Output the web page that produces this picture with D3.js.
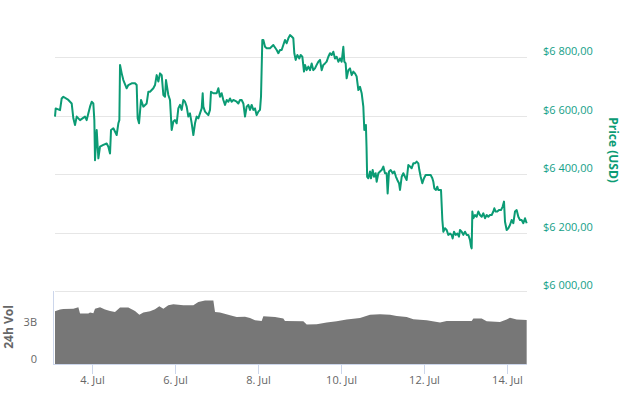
<!DOCTYPE html>
<html>
<head>
<meta charset="utf-8">
<script src="https://cdn.jsdelivr.net/npm/d3@7.9.0/dist/d3.min.js"></script>
<style>
  body { margin: 0; background: #fff; }
  svg { display: block; font-family: "Open Sans", sans-serif; }
</style>
</head>
<body>
<svg id="chart" width="621" height="393"></svg>
<script>
// day of July (fractional), price in USD
const priceData = [
  [3.108,6597],[3.125,6625],[3.229,6619],[3.269,6659],[3.309,6665],[3.430,6654],[3.510,6642],[3.550,6591],
  [3.590,6568],[3.631,6597],[3.711,6585],[3.831,6597],[3.871,6585],[3.952,6631],[3.992,6648],[4.032,6642],
  [4.056,6585],[4.072,6448],[4.113,6551],[4.153,6454],[4.193,6494],[4.273,6500],[4.353,6505],[4.394,6494],
  [4.434,6471],[4.458,6551],[4.514,6557],[4.594,6534],[4.635,6574],[4.659,6585],[4.675,6774],[4.715,6745],
  [4.755,6722],[4.835,6694],[4.875,6705],[4.956,6711],[5.036,6711],[5.076,6705],[5.100,6591],[5.133,6574],
  [5.181,6654],[5.237,6631],[5.317,6642],[5.357,6682],[5.398,6682],[5.478,6694],[5.518,6705],[5.558,6739],
  [5.598,6717],[5.639,6745],[5.679,6739],[5.719,6671],[5.759,6665],[5.783,6722],[5.839,6671],[5.879,6654],
  [5.920,6551],[5.960,6580],[6.000,6585],[6.040,6574],[6.080,6625],[6.120,6637],[6.161,6620],[6.201,6654],
  [6.241,6648],[6.281,6631],[6.321,6597],[6.361,6608],[6.402,6574],[6.442,6534],[6.482,6574],[6.522,6597],
  [6.562,6591],[6.602,6608],[6.643,6625],[6.667,6677],[6.683,6631],[6.723,6614],[6.763,6608],[6.803,6602],
  [6.843,6620],[6.867,6682],[6.924,6677],[7.004,6677],[7.044,6694],[7.084,6665],[7.124,6677],[7.165,6654],
  [7.205,6637],[7.245,6654],[7.285,6648],[7.325,6659],[7.365,6648],[7.406,6654],[7.486,6648],[7.526,6642],
  [7.566,6654],[7.606,6654],[7.647,6642],[7.687,6597],[7.727,6631],[7.767,6637],[7.807,6620],[7.847,6637],
  [7.888,6620],[7.928,6625],[7.968,6602],[8.008,6614],[8.048,6620],[8.072,6665],[8.104,6859],[8.129,6859],
  [8.169,6836],[8.209,6831],[8.289,6831],[8.369,6842],[8.450,6825],[8.490,6814],[8.530,6825],[8.570,6825],
  [8.610,6842],[8.650,6859],[8.691,6848],[8.731,6865],[8.771,6876],[8.811,6871],[8.851,6865],[8.875,6814],
  [8.907,6791],[8.948,6808],[8.996,6796],[9.028,6808],[9.068,6802],[9.108,6751],[9.132,6774],[9.172,6756],
  [9.213,6768],[9.253,6756],[9.293,6779],[9.333,6756],[9.373,6762],[9.413,6774],[9.454,6785],[9.494,6791],
  [9.534,6756],[9.574,6774],[9.614,6779],[9.654,6785],[9.695,6802],[9.735,6814],[9.775,6808],[9.815,6819],
  [9.855,6796],[9.895,6802],[9.936,6785],[9.976,6796],[10.016,6785],[10.056,6836],[10.080,6785],[10.112,6779],
  [10.136,6728],[10.177,6756],[10.217,6762],[10.257,6739],[10.297,6751],[10.337,6745],[10.377,6734],[10.418,6688],
  [10.458,6699],[10.498,6677],[10.538,6631],[10.562,6551],[10.600,6568],[10.615,6494],[10.630,6391],[10.659,6386],
  [10.699,6409],[10.723,6386],[10.763,6414],[10.795,6391],[10.835,6403],[10.859,6374],[10.900,6403],[10.940,6409],
  [10.980,6414],[11.020,6426],[11.060,6403],[11.100,6403],[11.124,6334],[11.157,6409],[11.197,6414],[11.245,6403],
  [11.285,6409],[11.325,6391],[11.357,6380],[11.398,6369],[11.422,6346],[11.462,6391],[11.502,6403],[11.542,6391],
  [11.582,6380],[11.622,6431],[11.663,6426],[11.703,6420],[11.743,6437],[11.783,6437],[11.823,6443],[11.863,6437],
  [11.888,6414],[11.920,6391],[11.960,6369],[12.000,6386],[12.040,6397],[12.104,6397],[12.161,6397],[12.201,6386],
  [12.225,6374],[12.249,6351],[12.289,6346],[12.321,6357],[12.345,6346],[12.386,6346],[12.410,6346],[12.442,6243],
  [12.466,6203],[12.506,6215],[12.546,6209],[12.586,6192],[12.627,6197],[12.667,6192],[12.691,6180],[12.723,6203],
  [12.763,6192],[12.803,6197],[12.843,6186],[12.867,6209],[12.908,6203],[12.948,6192],[12.988,6203],[13.028,6192],
  [13.068,6192],[13.108,6175],[13.133,6152],[13.149,6146],[13.165,6272],[13.189,6249],[13.229,6260],[13.269,6254],
  [13.309,6272],[13.349,6260],[13.390,6254],[13.430,6266],[13.470,6249],[13.510,6260],[13.550,6254],[13.590,6260],
  [13.631,6260],[13.671,6272],[13.695,6283],[13.727,6272],[13.767,6272],[13.807,6277],[13.855,6277],[13.896,6289],
  [13.928,6306],[13.952,6237],[13.992,6209],[14.032,6215],[14.072,6226],[14.112,6243],[14.153,6232],[14.193,6272],
  [14.233,6277],[14.273,6254],[14.313,6243],[14.353,6243],[14.394,6232],[14.434,6249],[14.474,6232]
];

// day of July, 24h volume in billions USD
const volumeData = [
  [3.108,4.27],[3.229,4.41],[3.309,4.46],[3.550,4.49],[3.671,4.60],[3.711,4.09],[3.912,4.09],[3.952,4.17],
  [4.032,4.11],[4.072,4.49],[4.193,4.60],[4.313,4.41],[4.434,4.30],[4.554,4.22],[4.675,4.58],[4.875,4.58],
  [5.036,4.30],[5.141,4.00],[5.237,4.17],[5.398,4.27],[5.518,4.44],[5.622,4.68],[5.719,4.49],[5.839,4.76],
  [5.960,4.84],[6.201,4.76],[6.442,4.76],[6.562,5.03],[6.723,5.14],[6.924,5.14],[6.964,4.22],[7.084,4.17],
  [7.325,3.95],[7.486,3.81],[7.687,3.84],[7.807,3.73],[7.928,3.54],[8.088,3.49],[8.129,3.87],[8.410,3.81],
  [8.610,3.68],[8.650,3.49],[9.092,3.46],[9.173,3.20],[9.414,3.22],[9.655,3.36],[9.896,3.46],[10.136,3.60],
  [10.458,3.73],[10.699,4.00],[10.940,4.03],[11.181,4.00],[11.341,3.89],[11.582,3.81],[11.743,3.62],[12.064,3.54],
  [12.386,3.36],[12.546,3.49],[12.867,3.49],[13.149,3.49],[13.189,3.68],[13.390,3.68],[13.510,3.46],[13.831,3.41],
  [13.992,3.60],[14.072,3.76],[14.233,3.60],[14.474,3.57]
];

const priceTicks = [6000, 6200, 6400, 6600, 6800];
const volumeTicks = [0, 3];
const dayTicks = [4, 6, 8, 10, 12, 14];
const dayStart = 3.108;
const dayEnd = 14.482;

const toDate = d => new Date(Date.UTC(2018, 6, 1) + (d - 1) * 86400000);

const svg = d3.select("#chart");

const x = d3.scaleUtc()
  .domain([toDate(dayStart), toDate(dayEnd)])
  .range([55, 527]);

const yPrice = d3.scaleLinear()
  .domain([6000, 6800])
  .range([291, 57.3]);

const yVol = d3.scaleLinear()
  .domain([0, 5.92])
  .range([364, 291]);

const locale = d3.formatLocale({ decimal: ",", thousands: " ", grouping: [3], currency: ["$", ""] });
const fmtPrice = locale.format("$,.2f");

// price grid
svg.append("g")
  .selectAll("line")
  .data(priceTicks)
  .join("line")
  .attr("x1", 55)
  .attr("x2", 527)
  .attr("y1", d => Math.round(yPrice(d)) + 0.5)
  .attr("y2", d => Math.round(yPrice(d)) + 0.5)
  .attr("stroke", "#e6e6e6");

svg.append("g")
  .selectAll("text")
  .data(priceTicks)
  .join("text")
  .attr("x", 543)
  .attr("y", d => yPrice(d) - 2)
  .attr("fill", "#14a088")
  .attr("font-size", 11)
  .text(d => fmtPrice(d));

svg.append("text")
  .attr("transform", "translate(613,150) rotate(90)")
  .attr("text-anchor", "middle")
  .attr("dominant-baseline", "central")
  .attr("fill", "#0b9b74")
  .attr("font-size", 12)
  .attr("font-weight", "bold")
  .text("Price (USD)");

// volume area
const area = d3.area()
  .x(d => x(toDate(d[0])))
  .y0(yVol(0))
  .y1(d => yVol(d[1]));

svg.append("path")
  .datum(volumeData)
  .attr("d", area)
  .attr("fill", "#777777");

// volume axis
svg.append("line")
  .attr("x1", 53.5).attr("x2", 53.5)
  .attr("y1", 291).attr("y2", 364)
  .attr("stroke", "#ccd6eb");

svg.append("g")
  .selectAll("text")
  .data(volumeTicks)
  .join("text")
  .attr("x", 37)
  .attr("y", d => yVol(d) - 1)
  .attr("text-anchor", "end")
  .attr("fill", "#666666")
  .attr("font-size", 11)
  .text(d => d === 0 ? "0" : d + "B");

svg.append("text")
  .attr("transform", "translate(8,327) rotate(-90)")
  .attr("text-anchor", "middle")
  .attr("dominant-baseline", "central")
  .attr("fill", "#666666")
  .attr("font-size", 12)
  .attr("font-weight", "bold")
  .text("24h Vol");

// x axis
const xAxis = svg.append("g")
  .attr("transform", "translate(0,364)")
  .call(d3.axisBottom(x)
    .tickValues(dayTicks.map(toDate))
    .tickFormat(d3.utcFormat("%-d. %b"))
    .tickSize(10)
    .tickSizeOuter(0));

xAxis.select(".domain").attr("stroke", "#ccd6eb").attr("d", "M53,0.5H527");
xAxis.selectAll(".tick line").attr("stroke", "#ccd6eb");
xAxis.selectAll(".tick text")
  .attr("fill", "#666666")
  .attr("font-size", 11)
  .attr("font-family", "Open Sans, sans-serif")
  .attr("y", 10)
  .attr("dy", "0.9em");

// price line
const line = d3.line()
  .x(d => x(toDate(d[0])))
  .y(d => yPrice(d[1]));

svg.append("path")
  .datum(priceData)
  .attr("d", line)
  .attr("fill", "none")
  .attr("stroke", "#0b9b74")
  .attr("stroke-width", 2)
  .attr("stroke-linejoin", "round");
</script>
</body>
</html>
